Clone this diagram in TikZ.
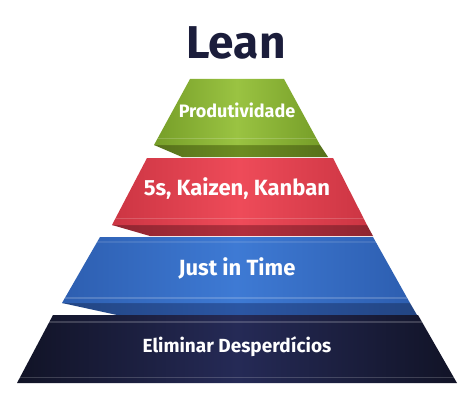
\documentclass[tikz,border=0pt]{standalone}
\usepackage{fontspec}
\setmainfont{Fira Sans}
\usetikzlibrary{positioning, calc}

\definecolor{leanNavy}{HTML}{1B1D3B}
\definecolor{greenMid}{HTML}{9AC342}
\definecolor{greenDark}{HTML}{769E28}
\definecolor{greenFold}{HTML}{6C8C22}
\definecolor{redMid}{HTML}{EE4B59}
\definecolor{redDark}{HTML}{CC3543}
\definecolor{redFold}{HTML}{B22F3D}
\definecolor{blueMid}{HTML}{3E7AD4}
\definecolor{blueDark}{HTML}{2D5EB0}
\definecolor{blueFold}{HTML}{2B56A3}
\definecolor{navyMid}{HTML}{252A56}
\definecolor{navyDark}{HTML}{111326}

\tikzset{
  face/.style 2 args={left color=#1, right color=#1, middle color=#2},
  rim/.style={white, opacity=0.18, line width=1.6pt},
  layertext/.style={text=white, inner sep=0pt, text height=0.69em, text depth=0pt,
    font=\bfseries\fontsize{#1}{#1}\selectfont},
}

\begin{document}
\begin{tikzpicture}[x=1pt, y=-1pt]
    \useasboundingbox[fill=white] (0,0) rectangle (474,420);

    % corners of the four layers
    \coordinate (gTL) at (190,79);  \coordinate (gTR) at (284,79);
    \coordinate (gBL) at (154,145); \coordinate (gBR) at (320,145);
    \coordinate (rTL) at (147,158); \coordinate (rTR) at (333,158);
    \coordinate (rBL) at (112,225); \coordinate (rBR) at (367,225);
    \coordinate (bTL) at (100,237); \coordinate (bTR) at (373,237);
    \coordinate (bBL) at (62,303);  \coordinate (bBR) at (410,303);
    \coordinate (nTL) at (53,315);  \coordinate (nTR) at (418,315);
    \coordinate (nBL) at (17,383);  \coordinate (nBR) at (457,383);

    % folds under each layer
    \shade[face={greenFold!80!black}{greenFold}] (gBL) -- (gBR) -- (328,157) -- (182,157) -- cycle;
    \shade[face={redFold!80!black}{redFold}] (rBL) -- (rBR) -- (373,236) -- (150,236) -- cycle;
    \shade[face={blueFold!80!black}{blueFold}] (bBL) -- (bBR) -- (417,315) -- (117,315) -- cycle;

    % faces
    \shade[face={greenDark}{greenMid}] (gTL) -- (gTR) -- (gBR) -- (gBL) -- cycle;
    \shade[face={redDark}{redMid}] (rTL) -- (rTR) -- (rBR) -- (rBL) -- cycle;
    \shade[face={blueDark}{blueMid}] (bTL) -- (bTR) -- (bBR) -- (bBL) -- cycle;
    \shade[face={navyDark}{navyMid}] (nTL) -- (nTR) -- (nBR) -- (nBL) -- cycle;

    % light rims
    \draw[rim] ($(gTL)!0.9!(gBL)$) -- ($(gTR)!0.9!(gBR)$);
    \draw[rim] ($(rTL)!0.9!(rBL)$) -- ($(rTR)!0.9!(rBR)$);
    \draw[rim, opacity=0.1] ($(bTL)!0.08!(bBL)$) -- ($(bTR)!0.08!(bBR)$);
    \draw[rim] ($(bTL)!0.92!(bBL)$) -- ($(bTR)!0.92!(bBR)$);
    \draw[rim] ($(nTL)!0.1!(nBL)$) -- ($(nTR)!0.1!(nBR)$);
    \draw[rim] ($(nTL)!0.92!(nBL)$) -- ($(nTR)!0.92!(nBR)$);

    % texts
    \node[layertext=46, text=leanNavy] (lean) at (236,55) {Lean};
    \node[layertext=18] (prod) at (237,114) {Produtividade};
    \node[layertext=22] (kaizen) at (237,192) {5s, Kaizen, Kanban};
    \node[layertext=22] (jit) at (237,272) {Just in Time};
    \node[layertext=19] (elim) at (237,349) {Eliminar Desperdícios};
\end{tikzpicture}
\end{document}
